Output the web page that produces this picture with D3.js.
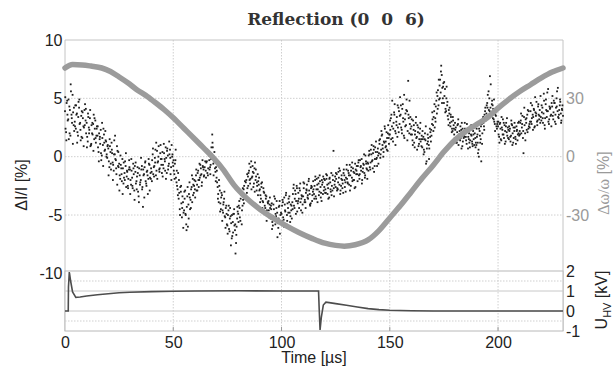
<!DOCTYPE html>
<html><head><meta charset="utf-8">
<script src="https://cdn.jsdelivr.net/npm/d3@7"></script>
<style>body{margin:0;background:#fff}svg{display:block}</style>
</head><body>
<svg id="c" width="614" height="366"></svg>
<script>
const titleText = "Reflection (0  0  6)";
const xTicks = [0, 50, 100, 150, 200];
const leftTicks = [10, 5, 0, -5, -10];
const rightTicks = [30, 0, -30];
const hvTicks = [2, 1, 0, -1];
const sampleStep = 0.5;
// ΔI/I samples [%]: run A starts at t=0, run B at t=0.25 µs, run C at t=0.125 µs
const intensityA = [
3.9,2.1,4.8,3.2,4.3,1.8,3.6,5.3,2.7,3.0,
2.4,3.7,1.8,4.2,2.9,3.5,1.6,2.6,4.0,3.1,
2.9,1.3,2.5,3.3,1.0,2.0,2.8,1.5,3.1,1.8,
1.8,0.4,1.5,2.3,0.1,1.0,1.9,0.6,1.3,-0.1,
0.7,-0.9,0.4,1.2,-0.5,-1.2,0.2,-0.3,0.9,-0.8,
-0.6,-1.9,-1.0,-0.2,-2.3,-1.4,-0.8,-1.7,-2.5,-1.1,
-1.1,-2.4,-1.8,-0.6,-2.9,-1.3,-2.1,-0.9,-3.4,-1.6,
-2.0,-0.8,-4.3,-1.5,-0.5,-2.3,-1.2,-1.9,-0.7,-1.4,
-1.3,0.2,-0.9,-0.1,-1.6,0.5,-0.4,-1.1,0.3,-0.7,
0.4,-1.0,-0.2,0.8,-1.4,0.1,-0.6,0.6,-0.9,0.0,
-0.8,-1.5,-0.3,-2.2,-2.8,-3.6,-4.5,-3.0,-5.2,-3.9,
-4.6,-2.9,-5.8,-3.4,-4.1,-2.2,-3.7,-2.6,-1.9,-3.1,
-2.8,-1.6,-2.4,-1.2,-2.0,-0.7,-1.5,-0.3,-1.1,-0.9,
-1.2,-0.4,-1.6,0.1,-0.9,-0.2,1.9,-0.6,0.4,-1.3,
-1.8,-2.6,-3.9,-2.9,-4.5,-3.3,-4.8,-3.6,-5.2,-4.2,
-5.9,-4.6,-6.4,-5.1,-7.0,-5.6,-4.9,-6.3,-7.4,-5.3,
-4.9,-3.8,-5.5,-3.3,-4.2,-2.8,-3.6,-2.2,-3.1,-1.7,
-1.2,-2.3,-0.4,-1.7,-2.6,-1.0,-2.0,-2.9,-1.5,-2.4,
-2.8,-3.6,-2.2,-3.9,-3.1,-4.4,-3.4,-4.9,-3.8,-4.1,
-5.3,-4.0,-5.9,-4.5,-3.6,-5.1,-4.8,-6.1,-4.2,-5.0,
-4.9,-3.7,-5.4,-4.1,-3.3,-5.0,-4.4,-3.9,-5.6,-4.6,
-3.9,-2.7,-4.4,-3.2,-2.5,-4.0,-3.6,-2.9,-4.6,-3.4,
-3.4,-2.3,-3.9,-2.8,-3.5,-2.1,-3.2,-4.0,-2.6,-3.0,
-3.2,-2.0,-3.6,-2.4,-1.8,-3.0,-2.6,-3.8,-2.2,-2.9,
-2.0,-3.1,-1.6,-2.7,-3.5,-2.2,-1.4,-2.9,0.5,-2.4,
-2.6,-1.5,-2.8,-1.8,-1.2,-2.5,-2.0,-3.1,-1.6,-2.2,
-1.1,-2.2,-1.4,-0.7,-2.5,-1.8,-1.0,-2.0,-0.6,-1.5,
-1.5,-0.5,-1.9,-0.9,-0.2,-1.3,-0.7,-1.8,-0.4,-1.1,
-0.6,0.5,-1.1,0.2,-0.3,0.9,-0.8,0.4,-0.1,0.7,
0.3,1.5,0.6,1.9,0.0,1.2,0.8,2.1,0.5,1.6,
1.9,3.3,2.6,1.3,3.8,2.2,3.0,1.7,4.2,2.8,
3.6,2.3,4.5,1.8,3.2,2.7,3.9,6.5,2.0,3.4,
2.6,1.4,2.3,0.8,2.9,1.7,2.1,1.1,2.4,1.5,
0.8,1.7,0.4,1.4,-0.4,1.9,1.0,2.4,1.3,2.8,
2.7,3.9,3.3,4.8,5.2,4.4,6.1,5.5,7.0,5.0,
4.6,5.8,3.9,4.4,3.2,3.7,2.6,3.0,2.2,2.7,
1.6,2.5,1.2,2.8,1.9,1.4,2.3,0.9,2.1,1.7,
2.0,1.1,2.4,1.5,0.8,1.9,1.3,2.2,1.0,1.6,
1.0,1.9,0.6,2.2,1.5,2.8,3.2,2.6,3.9,3.4,
4.6,3.5,5.0,4.2,3.8,4.4,3.2,2.8,3.5,2.4,
2.6,1.7,2.9,1.4,2.3,1.9,2.7,1.3,2.1,2.5,
1.5,2.4,1.8,2.7,1.2,2.2,1.7,2.6,1.4,2.0,
2.2,3.1,2.5,1.6,3.4,2.0,2.9,3.6,2.4,2.8,
3.9,2.8,3.6,4.1,2.6,3.5,3.0,4.3,3.2,2.9,
3.1,4.2,3.7,2.7,4.5,3.4,3.9,2.8,4.1,3.6,
4.3,3.2,4.6,3.6,5.0,3.9,3.3,4.4,3.7,4.1,
3.5];
const intensityB = [
2.4,4.6,3.1,1.5,4.0,5.6,2.9,3.8,2.2,4.4,
3.6,2.1,4.7,2.8,1.4,3.9,3.3,2.5,4.5,2.0,
1.7,3.4,2.3,0.9,2.7,1.9,3.6,2.4,1.2,2.6,
0.8,2.0,1.1,-0.3,1.6,2.4,0.5,1.4,0.2,1.0,
-0.4,0.9,-1.1,0.3,-0.7,1.4,-0.2,-1.5,0.5,-0.9,
-1.6,-0.7,-2.1,-1.0,-1.8,-0.4,-2.6,-1.3,-1.9,-0.9,
-2.0,-1.2,-2.7,-1.5,-0.8,-2.3,-1.7,-3.0,-1.0,-2.2,
-1.1,-2.6,-1.6,-0.9,-2.1,-1.3,-3.2,-0.6,-1.8,-1.0,
-0.3,-1.5,-0.8,0.6,-1.2,-0.5,0.9,-1.0,-0.2,-1.4,
-0.7,0.3,-1.2,-0.1,0.7,-0.8,0.2,-1.5,1.0,-0.5,
-1.2,-0.6,-1.8,-2.5,-1.4,-3.1,-2.6,-4.0,-3.4,-4.8,
-3.6,-5.0,-4.3,-6.0,-3.2,-4.5,-2.8,-3.9,-2.4,-2.0,
-2.1,-2.9,-1.4,-2.6,-1.8,-1.0,-2.2,-0.9,-1.6,-0.4,
-0.5,-1.4,0.3,-1.1,-0.7,0.2,0.8,-0.4,-1.0,-0.9,
-2.2,-3.2,-2.5,-4.0,-3.1,-4.6,-3.9,-5.1,-4.4,-5.8,
-5.0,-6.2,-4.4,-5.7,-6.8,-4.9,-5.9,-8.3,-6.0,-4.7,
-4.2,-5.2,-3.1,-4.6,-3.7,-2.5,-3.3,-2.0,-2.7,-1.4,
-2.0,-0.9,-1.8,-1.3,-2.3,-0.5,-1.7,-2.5,-2.1,-2.9,
-3.3,-2.6,-3.8,-3.0,-4.2,-3.6,-4.6,-4.0,-5.2,-4.4,
-4.5,-5.6,-4.1,-5.4,-4.9,-3.8,-5.7,-4.3,-6.6,-4.8,
-4.2,-5.2,-3.5,-4.7,-5.8,-4.0,-3.6,-4.8,-4.1,-5.3,
-3.2,-4.2,-2.9,-3.8,-4.7,-3.1,-2.7,-3.9,-3.3,-4.1,
-2.7,-3.7,-3.1,-2.4,-3.6,-2.9,-4.2,-2.5,-3.3,-2.8,
-2.5,-3.4,-1.9,-2.8,-3.3,-2.1,-3.1,-2.4,-1.7,-2.6,
-2.8,-1.9,-3.2,-2.3,-1.8,-3.0,-2.5,-2.0,-3.4,-1.7,
-1.9,-2.7,-1.3,-2.4,-2.9,-1.6,-2.3,-1.1,-2.6,-1.8,
-1.9,-1.2,-2.4,-1.6,-0.9,-2.1,-1.3,-2.7,-1.1,-0.8,
-0.8,-1.6,-0.3,-1.2,-2.0,-0.6,-1.4,0.1,-1.0,-0.5,
0.1,-0.9,0.6,-0.4,0.3,-1.3,0.8,-0.2,0.4,-0.6,
1.1,0.2,1.8,0.7,1.3,2.4,0.9,1.6,2.7,1.9,
2.3,3.6,1.6,2.9,4.5,2.0,3.4,2.5,3.9,5.1,
2.5,4.1,3.0,1.6,3.7,4.9,2.2,3.3,2.8,1.9,
1.9,3.1,1.2,2.2,1.6,2.7,0.9,2.0,1.3,1.8,
1.5,0.6,2.0,-0.6,1.1,1.6,0.7,2.1,1.8,3.2,
3.4,2.5,4.3,3.7,5.7,4.9,6.6,7.8,5.9,6.3,
5.2,4.1,6.0,3.5,4.0,2.9,3.4,2.4,3.1,1.9,
2.3,1.5,2.7,1.0,2.2,1.6,2.9,1.3,1.8,2.4,
1.4,2.3,1.7,1.2,2.6,1.8,0.9,1.5,2.0,1.2,
1.7,0.3,2.4,1.2,-0.4,2.0,2.9,3.6,3.1,4.4,
5.3,4.0,6.9,3.7,4.8,4.1,3.0,3.6,2.6,3.0,
1.9,2.8,1.5,2.5,3.2,1.6,2.2,2.9,1.8,2.3,
2.2,1.3,2.8,2.0,1.6,2.5,1.1,2.3,2.9,1.8,
2.9,2.0,3.5,0.3,2.7,3.2,2.3,4.0,2.6,3.0,
3.0,4.4,3.4,2.5,3.8,4.7,3.1,3.6,4.0,3.4,
3.8,2.9,4.8,3.3,4.0,5.5,3.0,4.3,3.5,4.6,
3.5,4.8,3.0,4.2,5.6,3.4,4.0,4.7,3.1,4.4];
const intensityC = [
5.1,1.4,3.6,4.9,2.0,6.2,3.3,1.1,4.2,2.6,
4.4,1.2,3.4,4.9,2.3,1.7,3.8,0.9,2.7,4.1,
0.8,3.7,2.0,4.0,1.1,2.9,0.5,3.3,1.6,2.4,
2.6,-0.4,1.7,0.3,2.9,-0.8,1.2,2.2,0.0,0.9,
-1.6,1.5,-0.6,0.6,-2.0,0.2,1.8,-1.0,-2.4,0.4,
-2.9,0.1,-1.5,-3.2,-0.5,-2.0,0.3,-1.2,-2.7,-0.3,
-3.2,-0.2,-2.5,-1.0,-3.7,-0.5,-2.8,-1.4,-3.9,-2.4,
-0.1,-2.8,-1.1,-3.5,-0.4,-2.5,-1.6,-0.2,-2.9,-1.9,
-2.1,0.7,-1.7,-0.5,1.2,-1.9,0.0,-1.3,1.0,-0.2,
-1.7,1.1,-0.4,-1.9,0.5,-1.1,1.3,-0.1,-2.0,0.2,
-0.3,-1.9,0.6,-1.2,-3.3,-2.0,-5.0,-2.5,-4.4,-6.1,
-3.0,-4.9,-6.3,-2.6,-5.3,-3.5,-4.4,-1.6,-3.3,-2.5,
-3.5,-1.1,-2.9,-2.0,-0.6,-1.6,-2.5,-0.8,-1.7,0.5,
-1.8,0.6,-1.0,-0.3,-1.5,0.8,1.2,-1.6,-0.2,-2.1,
-1.2,-3.6,-2.0,-4.7,-3.5,-5.5,-4.1,-3.0,-6.1,-4.9,
-6.6,-4.2,-5.3,-7.6,-5.0,-6.5,-4.5,-5.8,-6.7,-4.3,
-5.6,-4.4,-3.6,-5.8,-2.7,-4.0,-2.1,-3.4,-1.5,-2.5,
-0.6,-1.9,-2.8,-0.8,-1.4,-3.0,-1.1,-2.2,-3.3,-1.8,
-3.9,-2.3,-4.4,-2.7,-4.8,-3.3,-5.5,-3.9,-4.6,-3.5,
-4.2,-6.2,-5.1,-3.4,-5.8,-4.4,-6.9,-5.3,-3.8,-5.6,
-5.5,-3.9,-6.0,-4.6,-3.1,-5.5,-4.8,-3.4,-5.1,-4.2,
-4.5,-2.4,-3.6,-4.9,-2.7,-3.8,-4.4,-2.3,-3.6,-4.8,
-2.2,-3.9,-4.4,-2.9,-3.3,-1.9,-4.1,-2.7,-3.8,-2.1,
-3.6,-1.7,-2.8,-3.9,-2.3,-1.6,-3.5,-2.0,-3.2,-1.9,
-3.1,-1.5,-2.4,-3.6,-1.9,-2.8,-3.3,-1.6,-2.7,-2.1,
-1.4,-2.9,-2.2,-1.0,-3.2,-1.9,-2.7,-1.4,-2.0,-3.0,
-0.7,-2.3,-1.6,-2.9,-1.2,-0.5,-2.0,-1.4,-2.6,-1.2,
-2.1,-0.3,-1.5,-0.8,-2.3,-1.0,0.2,-1.6,-0.6,-1.9,
-1.2,0.2,-0.5,1.0,-1.0,0.6,-0.2,1.3,-0.8,0.1,
1.4,-0.1,2.2,1.0,0.4,2.6,1.3,0.6,2.0,1.1,
3.1,1.5,4.8,2.4,3.6,1.0,2.7,4.4,2.1,3.5,
4.4,2.0,3.3,5.3,2.6,4.0,1.4,3.6,4.8,2.4,
3.2,1.0,2.7,1.9,3.4,0.6,2.5,1.5,2.9,0.9,
2.2,0.2,1.5,2.6,0.7,1.3,-0.2,1.7,2.3,3.8,
2.2,4.5,3.0,5.5,4.1,6.6,5.0,7.3,4.6,6.0,
6.4,3.8,5.0,4.7,2.7,4.2,3.6,2.1,3.4,2.4,
2.9,1.2,2.1,3.2,1.5,2.6,0.7,2.4,1.6,2.9,
1.7,2.8,0.7,2.0,1.4,2.7,1.1,1.9,2.5,0.8,
2.4,1.2,0.0,1.8,2.6,1.1,3.4,2.3,4.2,3.7,
4.2,5.6,3.9,6.2,4.5,3.3,4.9,2.2,3.9,2.8,
3.0,1.2,2.4,3.4,1.9,2.9,1.1,2.6,3.3,1.6,
2.6,1.7,3.1,1.0,2.5,2.9,1.5,2.2,1.9,3.0,
1.9,3.7,2.8,2.2,4.2,1.4,3.3,2.1,3.9,2.5,
4.6,3.3,2.3,4.0,5.1,3.7,2.7,4.5,3.5,5.2,
4.4,3.3,5.4,2.4,4.9,3.9,5.8,3.2,4.2,2.6,
5.2,3.8,4.6,2.8,4.3,5.9,3.6,4.9,2.9,4.0,
4.4];
// Δω/ω [%] (right axis)
const omegaTime = [0,3.5,8,12,17,21,25,29,33,38,42,46,50,55,60,64,68,73,78,84,90,96,102,108,114,120,125,129,134,140,145,150,155,160,165,170,175,180,185,190,195,200,205,210,215,220,225,230];
const omegaValue = [45.6,47.4,47.2,46.6,45.6,43.8,41.0,38.0,34.6,31.0,27.6,24.0,20.0,14.5,9.0,4.5,0,-6.5,-14.5,-21.5,-27.0,-31.5,-35.5,-39.0,-42.0,-44.5,-45.6,-46.0,-45.3,-42.8,-38.0,-31.5,-25.0,-18.0,-11.0,-4.5,2.5,8.5,13.0,16.5,20.0,25.0,29.5,33.5,37.0,40.5,43.5,45.6];
// U_HV [kV]
const hvTime = [0,1.5,1.6,2.0,2.6,3.5,5,7,10,15,20,25,30,40,50,60,80,100,117.1,117.4,117.8,118.4,119.3,120.5,122,125,130,135,140,145,150,160,170,230];
const hvValue = [0,0,1.2,1.95,1.5,0.95,0.68,0.7,0.75,0.81,0.86,0.91,0.94,0.97,0.99,1.0,1.01,1.0,1.0,0.1,-0.95,-0.3,0.3,0.44,0.42,0.37,0.29,0.2,0.12,0.07,0.04,0.01,0,0];

const svg = d3.select("#c");
const W = 614, H = 366;
const L = 65, R = 563, T = 40, B = 331.7;
const hvTop = 271, hvBot = 331;
const x = d3.scaleLinear([0, 230], [L, R]);
const yL = d3.scaleLinear([-15, 10], [B, T]);
const yR = d3.scaleLinear([-90, 60], [B, T]);
const yH = d3.scaleLinear([-1, 2], [hvBot, hvTop]);
const sans = "'Liberation Sans', Arial, sans-serif";
const frame = "#c4c4c4", grid = "#cfcfcf";

svg.append("rect").attr("width", W).attr("height", H).attr("fill", "#fff");

// top panel grid
const g = svg.append("g");
g.selectAll(".hg").data([5, 0, -5]).join("line")
  .attr("x1", L).attr("x2", R).attr("y1", d => yL(d)).attr("y2", d => yL(d))
  .attr("stroke", grid).attr("stroke-dasharray", "1.5,1.5");
g.selectAll(".vg").data(xTicks.filter(d => d > 0)).join("line")
  .attr("x1", d => x(d)).attr("x2", d => x(d)).attr("y1", T).attr("y2", hvTop)
  .attr("stroke", grid).attr("stroke-dasharray", "1.5,1.5");
// frame
g.append("line").attr("x1", L).attr("x2", R).attr("y1", T).attr("y2", T).attr("stroke", frame);
g.append("line").attr("x1", L).attr("x2", L).attr("y1", T).attr("y2", hvBot).attr("stroke", frame);
g.append("line").attr("x1", R).attr("x2", R).attr("y1", T).attr("y2", hvBot).attr("stroke", frame);

// scatter
const pts = intensityA.map((v, i) => ({t: i * sampleStep, v}))
  .concat(intensityB.map((v, i) => ({t: i * sampleStep + sampleStep / 2, v})))
  .concat(intensityC.map((v, i) => ({t: i * sampleStep + sampleStep / 4, v})))
  .filter(d => d.t <= 230);
svg.append("g").selectAll("rect").data(pts).join("rect")
  .attr("x", d => x(d.t) - 0.9).attr("y", d => yL(d.v) - 0.9)
  .attr("width", 1.8).attr("height", 1.8).attr("fill", "#1e1e1e");

// omega line
const omega = omegaTime.map((t, i) => [t, omegaValue[i]]);
svg.append("path").datum(omega)
  .attr("d", d3.line().x(d => x(d[0])).y(d => yR(d[1])).curve(d3.curveMonotoneX))
  .attr("fill", "none").attr("stroke", "#9b9b9b").attr("stroke-width", 5.5)
  .attr("stroke-linecap", "round").attr("stroke-linejoin", "round");

// bottom panel
const hb = svg.append("g");
hb.append("rect").attr("x", L).attr("y", hvTop).attr("width", R - L).attr("height", hvBot - hvTop)
  .attr("fill", "#fff").attr("stroke", "#b8b8b8");
hb.selectAll(".hs").data([1, 0]).join("line")
  .attr("x1", L).attr("x2", R).attr("y1", d => yH(d)).attr("y2", d => yH(d)).attr("stroke", "#c8c8c8");
hb.selectAll(".hd").data([1.5, -0.5]).join("line")
  .attr("x1", L).attr("x2", R).attr("y1", d => yH(d)).attr("y2", d => yH(d))
  .attr("stroke", grid).attr("stroke-dasharray", "1.5,1.5");
hb.selectAll(".hv").data(xTicks.filter(d => d > 0)).join("line")
  .attr("x1", d => x(d)).attr("x2", d => x(d)).attr("y1", hvTop).attr("y2", hvBot)
  .attr("stroke", grid).attr("stroke-dasharray", "1.5,1.5");
hb.selectAll(".tk").data(xTicks.filter(d => d > 0)).join("line")
  .attr("x1", d => x(d)).attr("x2", d => x(d)).attr("y1", hvBot - 4).attr("y2", hvBot)
  .attr("stroke", "#999");
const hv = hvTime.map((t, i) => [t, hvValue[i]]);
hb.append("path").datum(hv)
  .attr("d", d3.line().x(d => x(d[0])).y(d => yH(d[1])))
  .attr("fill", "none").attr("stroke", "#4d4d4d").attr("stroke-width", 1.6);

// axes labels
function styleAxis(sel, color) {
  sel.select(".domain").remove();
  sel.selectAll("line").remove();
  sel.selectAll("text").attr("font-family", sans).attr("font-size", 16).attr("fill", color);
}
svg.append("g").attr("transform", `translate(${L},0)`)
  .call(d3.axisLeft(yL).tickValues(leftTicks).tickSize(0).tickPadding(2.5).tickFormat(d => String(d)))
  .call(s => styleAxis(s, "#222"));
svg.append("g").attr("transform", `translate(${R},0)`)
  .call(d3.axisRight(yR).tickValues(rightTicks).tickSize(0).tickPadding(3).tickFormat(d => String(d)))
  .call(s => styleAxis(s, "#9a9a9a"));
svg.append("g").attr("transform", `translate(${R},0)`)
  .call(d3.axisRight(yH).tickValues(hvTicks).tickSize(0).tickPadding(3).tickFormat(d => String(d)))
  .call(s => styleAxis(s, "#222"));
svg.append("g").attr("transform", `translate(0,${hvBot})`)
  .call(d3.axisBottom(x).tickValues(xTicks).tickSize(0).tickPadding(6).tickFormat(d => String(d)))
  .call(s => styleAxis(s, "#222"));

// titles
svg.append("text").attr("x", (L + R) / 2 + 22).attr("y", 25).attr("text-anchor", "middle")
  .attr("font-family", "'DejaVu Serif', serif").attr("font-weight", "bold")
  .attr("font-size", 17).attr("fill", "#333").style("white-space", "pre").text(titleText);
svg.append("text").attr("x", (L + R) / 2).attr("y", 363).attr("text-anchor", "middle")
  .attr("font-family", sans).attr("font-size", 16).attr("fill", "#222").text("Time [\u00b5s]");
svg.append("text").attr("transform", "translate(27,185) rotate(-90)").attr("text-anchor", "middle")
  .attr("font-family", sans).attr("font-size", 16).attr("fill", "#222").text("\u0394I/I [%]");
const rl = svg.append("text").attr("transform", "translate(609,183) rotate(-90)").attr("text-anchor", "middle")
  .attr("font-size", 16).attr("fill", "#9a9a9a");
rl.append("tspan").attr("font-family", "'Liberation Serif', serif").text("\u0394\u03c9/\u03c9");
rl.append("tspan").attr("font-family", sans).text(" [%]");
const ul = svg.append("text").attr("transform", "translate(607,300) rotate(-90)").attr("text-anchor", "middle")
  .attr("font-family", sans).attr("font-size", 16).attr("fill", "#222");
ul.append("tspan").text("U");
ul.append("tspan").attr("font-size", 11).attr("dy", 4).text("HV");
ul.append("tspan").attr("dy", -4).text(" [kV]");
</script>
</body></html>
